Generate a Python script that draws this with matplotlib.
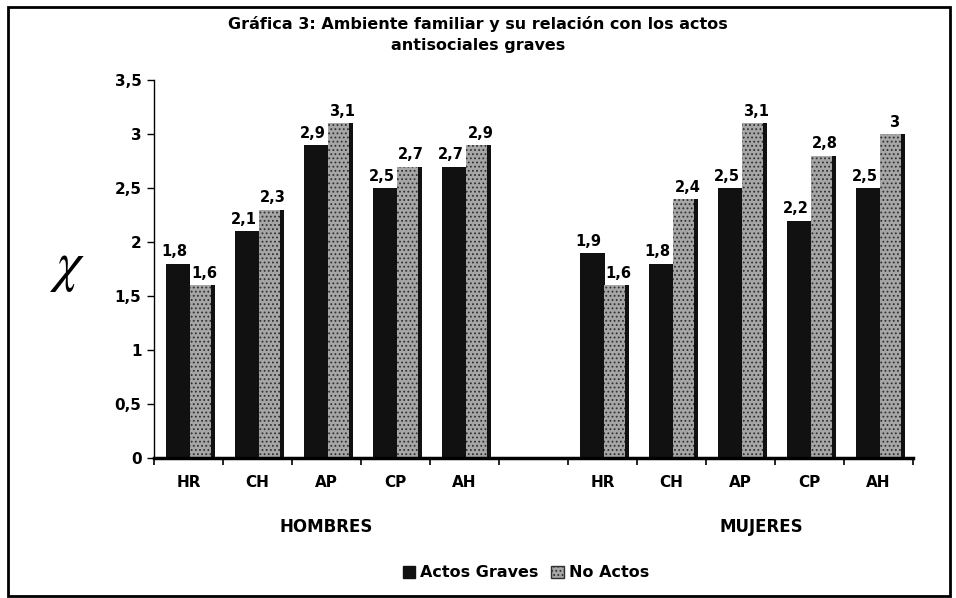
import matplotlib
matplotlib.use("Agg")
import matplotlib.pyplot as plt
import matplotlib.transforms as mtransforms
from matplotlib.patches import Rectangle
import numpy as np

plt.rcParams['font.family'] = ['DejaVu Sans']
plt.rcParams['mathtext.fontset'] = 'stix'
plt.rcParams['hatch.linewidth'] = 0.8

# data
groups = ["HOMBRES", "MUJERES"]
categories = ["HR", "CH", "AP", "CP", "AH"]
hombres_graves = [1.8, 2.1, 2.9, 2.5, 2.7]
hombres_no = [1.6, 2.3, 3.1, 2.7, 2.9]
mujeres_graves = [1.9, 1.8, 2.5, 2.2, 2.5]
mujeres_no = [1.6, 2.4, 3.1, 2.8, 3.0]
yticks = [0, 0.5, 1, 1.5, 2, 2.5, 3, 3.5]


def fmt(v):
    s = f"{v:.1f}".replace(".", ",")
    return s[:-2] if s.endswith(",0") else s


# slots 0-4 hombres, slot 5 empty, 6-10 mujeres
x = np.array(list(range(5)) + list(range(6, 11)))
graves = hombres_graves + mujeres_graves
no_actos = hombres_no + mujeres_no
labels = categories + categories

fig = plt.figure(figsize=(9.56, 5.98), dpi=100)
ax = fig.add_axes([0.161, 0.234, 0.794, 0.632])

w_dark = 0.36
w_grey = 0.30
w_side = 0.07
xd = x - 0.15
xg = x + 0.17

ax.bar(xd, graves, width=w_dark, color="#111111", zorder=2)
ax.bar(xg, no_actos, width=w_grey, color="#a6a6a6", edgecolor="#303030",
       hatch="....", linewidth=0, zorder=2)
ax.bar(xg + w_grey / 2 + w_side / 2, no_actos, width=w_side, color="#111111", zorder=2)

for xi, v in zip(xd, graves):
    ax.text(xi - 0.05, v + 0.04, fmt(v), ha="center", va="bottom",
            fontsize=10.5, fontweight="bold")
for xi, v in zip(xg, no_actos):
    ax.text(xi + 0.06, v + 0.04, fmt(v), ha="center", va="bottom",
            fontsize=10.5, fontweight="bold")

ax.set_xlim(-0.5, 10.5)
ax.set_ylim(0, 3.5)
ax.set_yticks(yticks)
ax.set_yticklabels([fmt(v) for v in yticks], fontsize=11, fontweight="bold")
ax.set_xticks(x)
ax.set_xticklabels(labels, fontsize=11, fontweight="bold")
ax.tick_params(axis="x", length=0, pad=12)
ax.set_xticks(np.arange(-0.5, 11, 1), minor=True)
ax.tick_params(axis="x", which="minor", length=5, width=1.2, direction="out")
ax.tick_params(axis="y", length=5, width=1, direction="out", pad=4)

for s in ["top", "right"]:
    ax.spines[s].set_visible(False)
ax.spines["left"].set_linewidth(1)
ax.spines["bottom"].set_linewidth(2.5)

trans = mtransforms.blended_transform_factory(ax.transData, fig.transFigure)
ax.text(2, 0.119, groups[0], transform=trans, ha="center", va="center",
        fontsize=12, fontweight="bold")
ax.text(8.3, 0.119, groups[1], transform=trans, ha="center", va="center",
        fontsize=12, fontweight="bold")

fig.text(0.5, 0.942, "Gráfica 3: Ambiente familiar y su relación con los actos\nantisociales graves",
         ha="center", va="center", fontsize=11.5, fontweight="bold", linespacing=1.5)

fig.text(0.07, 0.553, r"$\chi$", ha="center", va="center", fontsize=40)

handles = [Rectangle((0, 0), 1, 1, color="#111111"),
           Rectangle((0, 0), 1, 1, facecolor="#a6a6a6", edgecolor="#303030", hatch="....")]
fig.legend(handles, ["Actos Graves", "No Actos"], loc="center", bbox_to_anchor=(0.55, 0.042),
           ncol=2, frameon=False, handlelength=0.8, handleheight=0.8, handletextpad=0.3,
           columnspacing=0.8, prop={"weight": "bold", "size": 11.5})

fig.patches.append(Rectangle((0.008, 0.004), 0.986, 0.984, transform=fig.transFigure,
                             fill=False, edgecolor="black", linewidth=2))

fig.savefig("out.png", dpi=100)
